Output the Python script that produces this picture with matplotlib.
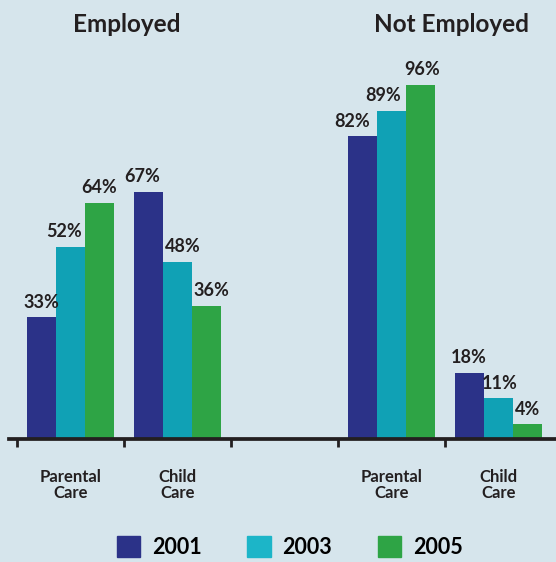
import matplotlib.pyplot as plt
import numpy as np

# Data (percent)
years = ['2001', '2003', '2005']
groups = ['Employed', 'Not Employed']
care_types = ['Parental\nCare', 'Child\nCare']
employed_parental = [33, 52, 64]
employed_child = [67, 48, 36]
notemp_parental = [82, 89, 96]
notemp_child = [18, 11, 4]

colors = ['#2B3288', '#10A1B5', '#2EA445']
legend_colors = ['#2B3288', '#1CB5C8', '#2EA445']
bg = '#D6E5EC'
dark = '#231F20'

# small sideways nudges of the value labels (points), per year then per slot
label_nudge = [[0, -4.5, -7, 0],
               [-4.5, 4, -6, 1],
               [0, 3.5, 1.5, 0.5]]

plt.rcParams['font.family'] = ['Lato', 'DejaVu Sans']
plt.rcParams['font.weight'] = 'bold'

fig = plt.figure(figsize=(5.56, 5.62), dpi=100, facecolor=bg)
ax = fig.add_axes([9 / 556, 123 / 562, 547 / 556, 369 / 562], facecolor=bg)

# slot positions; slot 2 is left empty as a gap between the two groups
slots = [0, 1, 3, 4]
values = [employed_parental, employed_child, notemp_parental, notemp_child]
bar_w = 0.271

for i, year in enumerate(years):
    xs = [s + (i - 1) * bar_w for s in slots]
    hs = [v[i] for v in values]
    bars = ax.bar(xs, hs, width=bar_w, color=colors[i], label=year, zorder=2)
    for j, (b, h) in enumerate(zip(bars, hs)):
        ax.annotate('%d%%' % h, (b.get_x() + b.get_width() / 2, h),
                    xytext=(label_nudge[i][j], 7), textcoords='offset points',
                    ha='center', va='baseline', fontsize=13,
                    fontweight='bold', color=dark)

ax.set_xlim(-0.572, 4.54)
ax.set_ylim(0, 100)

for side in ['top', 'right', 'left']:
    ax.spines[side].set_visible(False)
ax.spines['bottom'].set_linewidth(2.7)
ax.spines['bottom'].set_color(dark)
ax.spines['bottom'].set_zorder(3)
ax.set_yticks([])
ax.set_xticks([-0.5, 0.5, 1.5, 2.5, 3.5])
ax.set_xticklabels([])
ax.tick_params(axis='x', direction='out', length=6, width=2, color=dark)

for s, lab in zip(slots, care_types * 2):
    ax.text(s, -0.125, lab, transform=ax.get_xaxis_transform(),
            ha='center', va='center', fontsize=12, fontweight='bold',
            color=dark, linespacing=1.0)

# group titles
fig.text(127 / 556, 1 - 32.5 / 562, groups[0], ha='center', va='baseline',
         fontsize=17.5, fontweight='bold', color=dark)
fig.text(451 / 556, 1 - 32.5 / 562, groups[1], ha='center', va='baseline',
         fontsize=17.5, fontweight='bold', color=dark)

# legend
handles = [plt.Rectangle((0, 0), 1, 1, color=c) for c in legend_colors]
fig.legend(handles, years, loc='lower center', ncol=3, frameon=False,
           bbox_to_anchor=(0.521, 4 / 562), handlelength=1.09,
           handleheight=1.12, handletextpad=0.56, columnspacing=2.1,
           borderpad=0, borderaxespad=0,
           prop={'weight': 'bold', 'size': 15.5})

fig.savefig('out.png', dpi=100, facecolor=bg)
